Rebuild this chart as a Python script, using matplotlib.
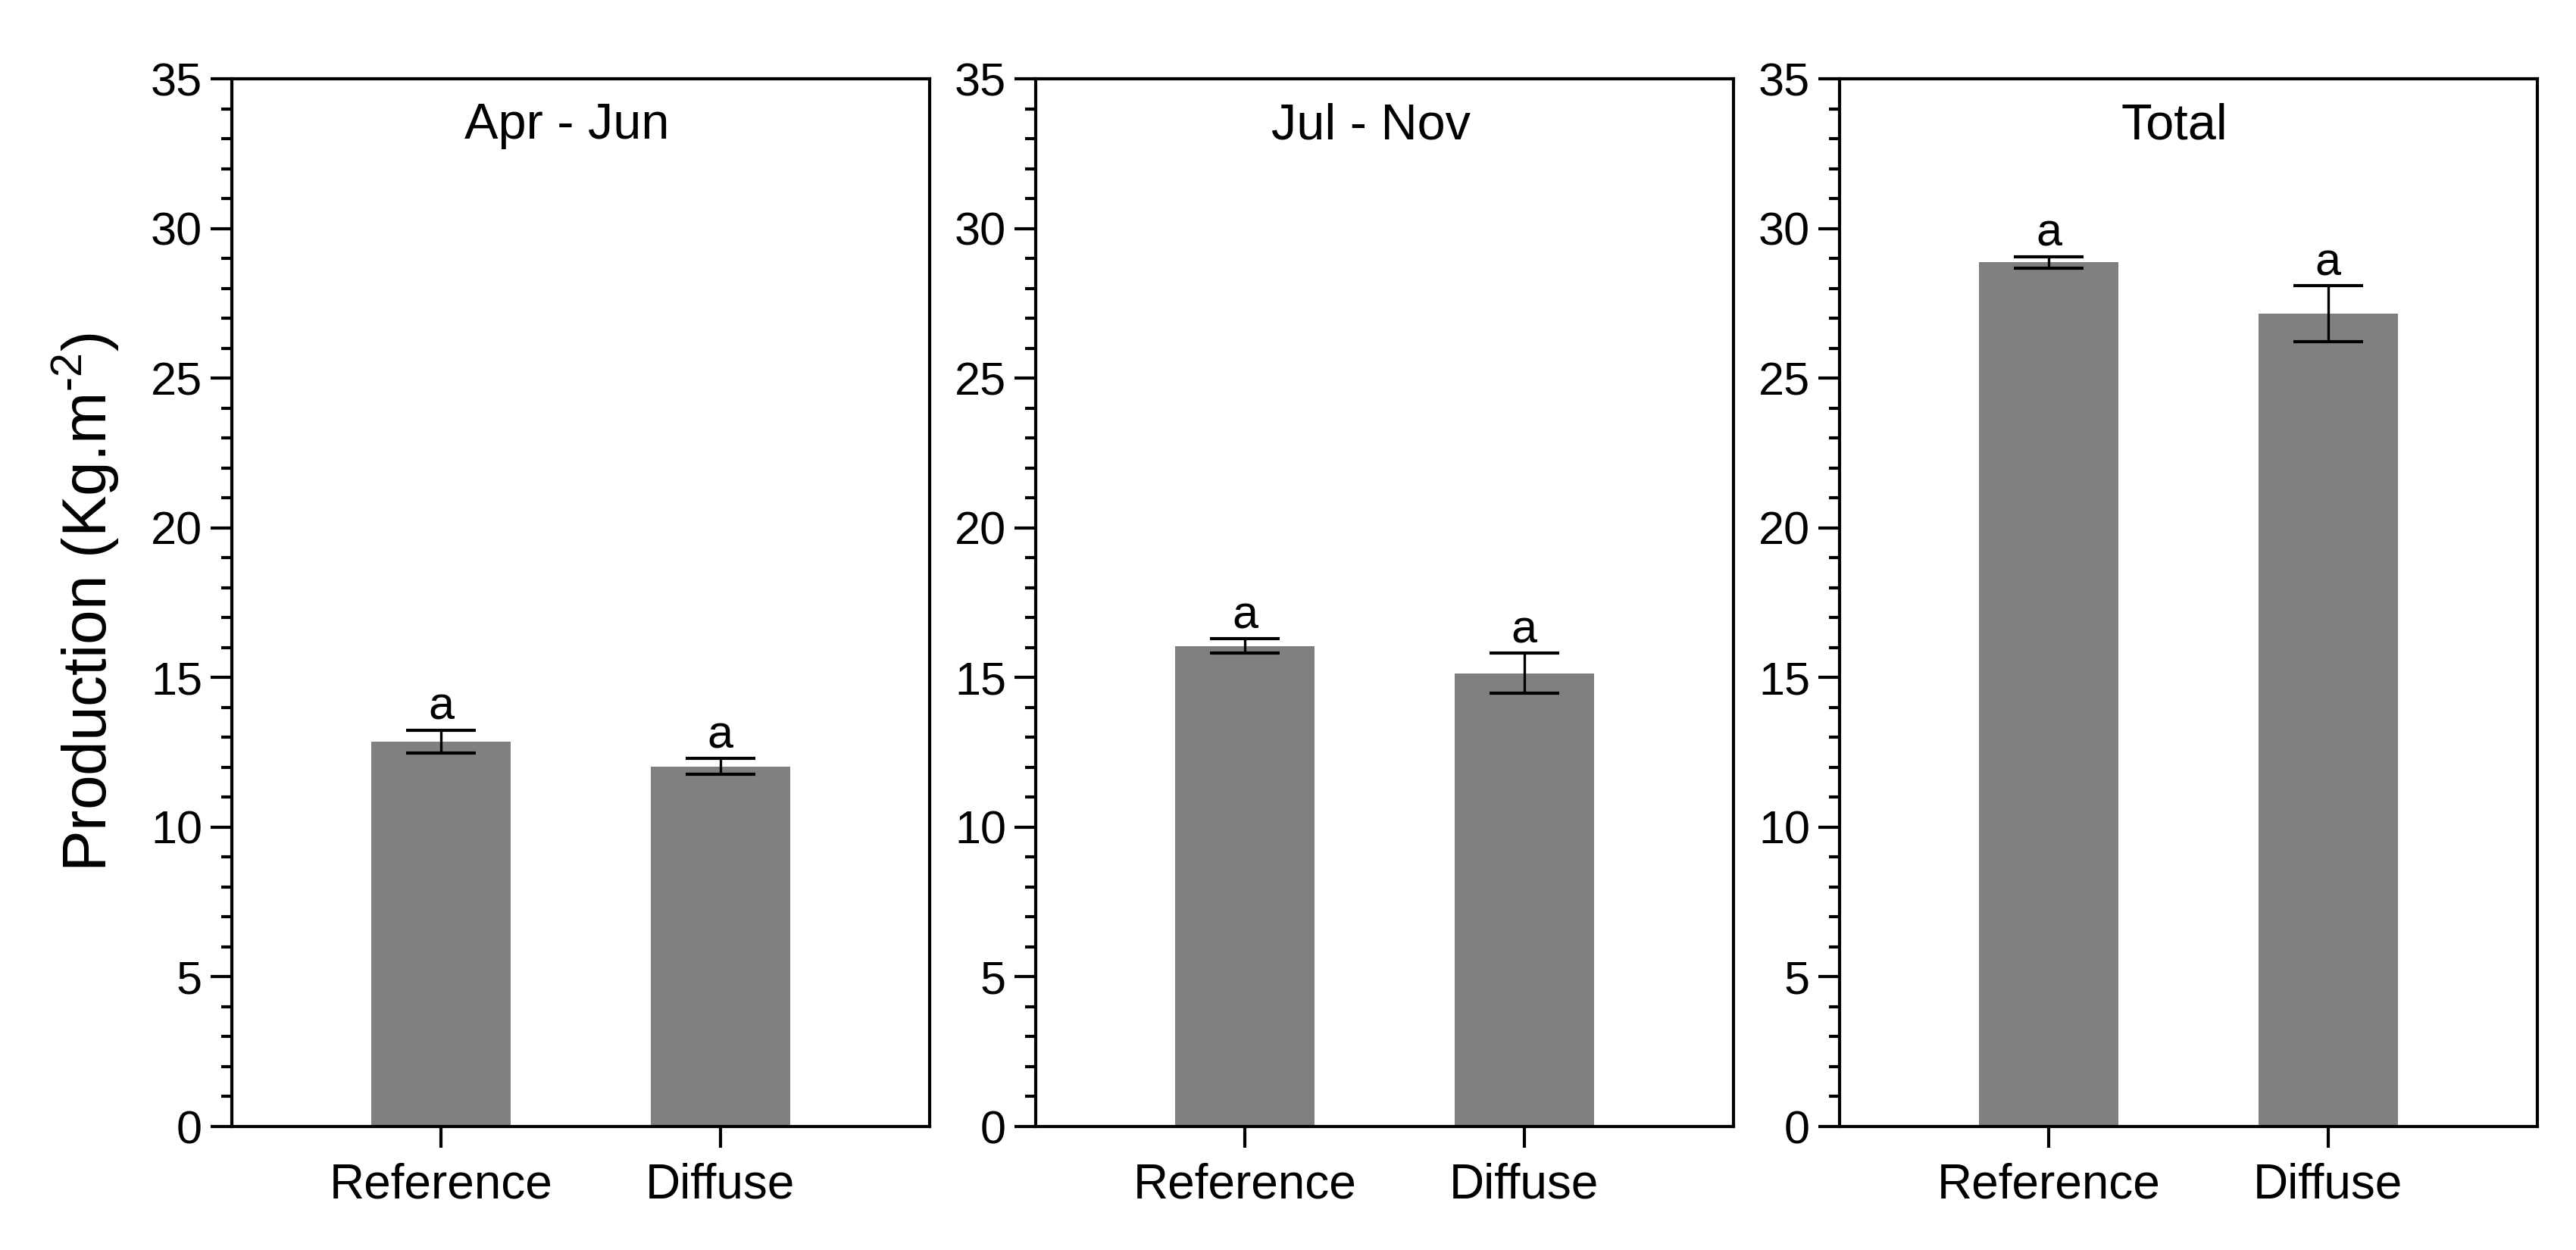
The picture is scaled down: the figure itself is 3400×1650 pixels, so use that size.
import matplotlib
matplotlib.use("Agg")
import matplotlib.pyplot as plt
from matplotlib.ticker import MultipleLocator

plt.rcParams['font.family'] = ['Liberation Sans', 'DejaVu Sans']
plt.rcParams['mathtext.fontset'] = 'custom'
plt.rcParams['mathtext.rm'] = 'Liberation Sans'

categories = ["Reference", "Diffuse"]
panel_titles = ["Apr - Jun", "Jul - Nov", "Total"]
means = [[12.86, 12.03], [16.05, 15.14], [28.87, 27.15]]
errors = [[0.385, 0.27], [0.245, 0.67], [0.19, 0.93]]
letters = [["a", "a"], ["a", "a"], ["a", "a"]]
y_ticks = [0, 5, 10, 15, 20, 25, 30, 35]

DPI = 200
fig = plt.figure(figsize=(3400 / DPI, 1650 / DPI), dpi=DPI)

lefts = [306 / 3400, 1367 / 3400, 2428 / 3400]
width = 921 / 3400
bottom = 163 / 1650
height = 1383 / 1650

lw = 1.5
for i in range(3):
    ax = fig.add_axes([lefts[i], bottom, width, height])
    x = list(range(len(categories)))
    ax.bar(x, means[i], width=0.5, color="#808080", edgecolor="none", zorder=2)
    ax.errorbar(x, means[i], yerr=errors[i], fmt="none", ecolor="black",
                elinewidth=1.2, capsize=16.5, capthick=1.5, zorder=3)
    for xi, m, e, l in zip(x, means[i], errors[i], letters[i]):
        ax.annotate(l, xy=(xi, m + e), xytext=(0, 5), textcoords="offset points",
                    ha="center", va="baseline", fontsize=22)
    ax.set_xlim(-0.75, 1.75)
    ax.set_ylim(0, 35)
    ax.set_yticks(y_ticks)
    ax.yaxis.set_minor_locator(MultipleLocator(1))
    ax.set_xticks(x)
    ax.set_xticklabels(categories)
    for s in ax.spines.values():
        s.set_linewidth(lw)
    ax.tick_params(axis="y", which="major", direction="out", length=10, width=lw,
                   labelsize=22, pad=4)
    ax.tick_params(axis="y", which="minor", direction="out", length=5, width=lw)
    ax.tick_params(axis="x", which="major", direction="out", length=10, width=lw,
                   labelsize=23, pad=7)
    ax.text(0.48, 0.955, panel_titles[i], transform=ax.transAxes, ha="center",
            va="center", fontsize=24)
    if i == 0:
        ax.set_ylabel("Production (Kg.m$^{\\mathregular{\u20102}}$)", fontsize=29.5,
                      labelpad=14)

fig.savefig("out.png", dpi=DPI, facecolor="white")
